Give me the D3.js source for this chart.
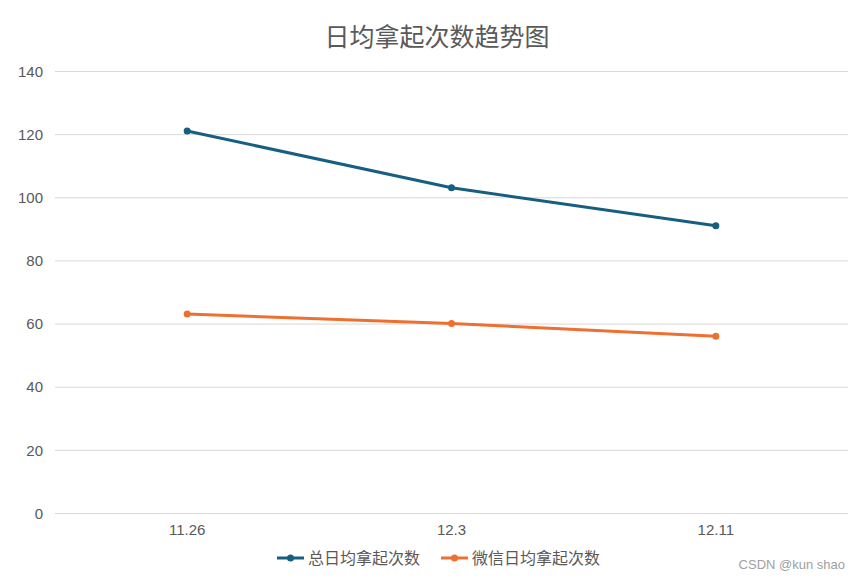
<!DOCTYPE html>
<html>
<head>
<meta charset="utf-8">
<script src="https://cdn.jsdelivr.net/npm/d3@7"></script>
<style>
  body { margin: 0; background: #fff; }
  text { font-family: "Liberation Sans", "Noto Sans CJK SC", sans-serif; }
</style>
</head>
<body>
<div id="chart"></div>
<script>
const categories = ["11.26", "12.3", "12.11"];
const seriesNames = ["总日均拿起次数", "微信日均拿起次数"];
const totalValues = [121, 103, 91];
const wechatValues = [63, 60, 56];
const yTicks = [0, 20, 40, 60, 80, 100, 120, 140];
const colors = ["#175f80", "#ed7031"];

const width = 859;
const height = 579;
const marginTop = 71;
const marginRight = 11;
const marginBottom = 66;
const marginLeft = 55;

const svg = d3.select("#chart")
    .append("svg")
    .attr("width", width)
    .attr("height", height);

const x = d3.scaleBand()
    .domain(categories)
    .range([marginLeft, width - marginRight]);

const y = d3.scaleLinear()
    .domain([0, 140])
    .range([height - marginBottom, marginTop]);

// title
svg.append("text")
    .attr("x", 437)
    .attr("y", 46)
    .attr("text-anchor", "middle")
    .attr("fill", "#595959")
    .attr("font-size", 25)
    .attr("font-family", "Noto Sans CJK SC")
    .text("日均拿起次数趋势图");

// grid lines
svg.append("g")
    .selectAll("line")
    .data(yTicks)
    .join("line")
    .attr("x1", marginLeft)
    .attr("x2", width - marginRight)
    .attr("y1", d => y(d) + 0.5)
    .attr("y2", d => y(d) + 0.5)
    .attr("stroke", "#d9d9d9")
    .attr("stroke-width", 1);

// y axis
const yAxis = svg.append("g")
    .attr("transform", `translate(${marginLeft},0)`)
    .call(d3.axisLeft(y).tickValues(yTicks).tickSize(0).tickPadding(12));
yAxis.select(".domain").remove();
yAxis.selectAll("text")
    .attr("fill", "#595959")
    .attr("font-size", 15)
    .attr("dy", "0.35em");

// x axis
const xAxis = svg.append("g")
    .attr("transform", `translate(0,${height - marginBottom})`)
    .call(d3.axisBottom(x).tickSize(0).tickPadding(11));
xAxis.select(".domain").remove();
xAxis.selectAll("text")
    .attr("fill", "#595959")
    .attr("font-size", 15);

const series = [totalValues, wechatValues];
const cx = c => x(c) + x.bandwidth() / 2;

const line = d3.line()
    .x((_, i) => cx(categories[i]))
    .y(d => y(d));

series.forEach((vals, si) => {
    svg.append("path")
        .datum(vals)
        .attr("fill", "none")
        .attr("stroke", colors[si])
        .attr("stroke-width", 3)
        .attr("stroke-linejoin", "round")
        .attr("stroke-linecap", "round")
        .attr("d", line);

    svg.append("g")
        .selectAll("circle")
        .data(vals)
        .join("circle")
        .attr("cx", (_, i) => cx(categories[i]))
        .attr("cy", d => y(d))
        .attr("r", 3.5)
        .attr("fill", colors[si]);
});

// legend
const legendX = [277, 441];
seriesNames.forEach((name, i) => {
    const g = svg.append("g")
        .attr("transform", `translate(${legendX[i]},558)`);
    g.append("line")
        .attr("x1", 0).attr("x2", 27)
        .attr("stroke", colors[i])
        .attr("stroke-width", 3);
    g.append("circle")
        .attr("cx", 13.5)
        .attr("r", 3.5)
        .attr("fill", colors[i]);
    g.append("text")
        .attr("x", 31)
        .attr("dy", "0.36em")
        .attr("fill", "#595959")
        .attr("font-size", 16)
        .attr("font-family", "Noto Sans CJK SC")
        .text(name);
});

// watermark
svg.append("text")
    .attr("x", 845)
    .attr("y", 569)
    .attr("text-anchor", "end")
    .attr("fill", "#a0a0a0")
    .attr("font-size", 13)
    .text("CSDN @kun shao");
</script>
</body>
</html>
